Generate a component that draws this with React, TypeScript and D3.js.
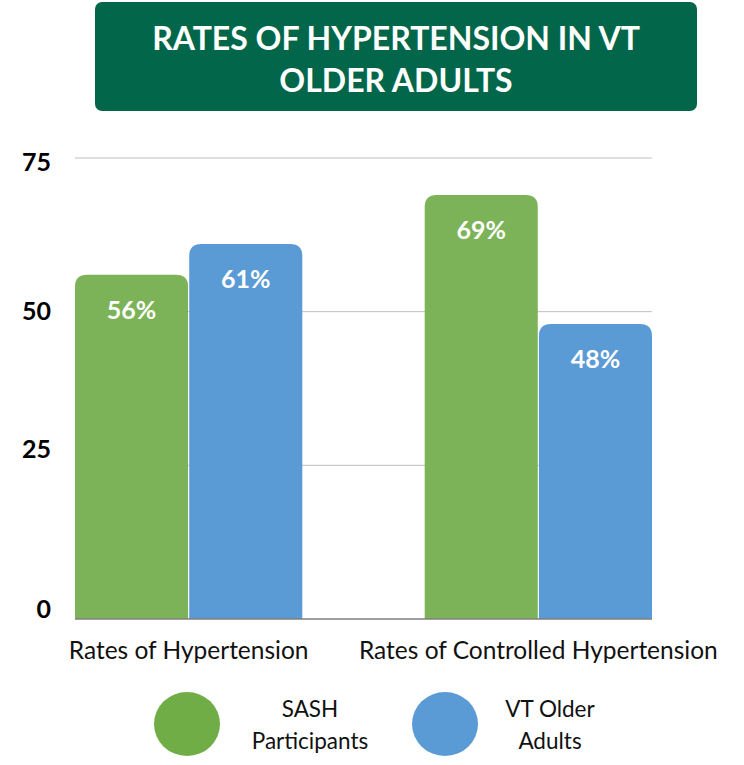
import React from 'react';
import * as d3 from 'd3';

const categories = ['Rates of Hypertension', 'Rates of Controlled Hypertension'];
const seriesNames = ['SASH Participants', 'VT Older Adults'];
const sashValues = [56, 69];
const vtValues = [61, 48];
const yTicks = [0, 25, 50, 75];
const titleLines = ['RATES OF HYPERTENSION IN VT', 'OLDER ADULTS'];
const legendLines = [['SASH', 'Participants'], ['VT Older', 'Adults']];

const W = 744;
const H = 765;
const FONT = 'Lato, "Open Sans", sans-serif';
const green = '#7db358';
const blue = '#5b9bd5';
const legendColors = ['#70ad47', '#5b9bd5'];
// the tick labels in the original sit a little off their gridlines
const tickLabelDy: Record<number, number> = { 0: -1, 25: -7, 50: 8, 75: 13 };

// path for a bar with rounded top corners only
function topRounded(x: number, y: number, w: number, h: number, r: number) {
	const rr = Math.min(r, h, w / 2);
	return `M${x},${y + h}V${y + rr}Q${x},${y} ${x + rr},${y}H${x + w - rr}Q${x + w},${y} ${x + w},${y + rr}V${y + h}Z`;
}

function App() {
	const x0 = d3.scaleBand().domain(categories).range([75, 652]).paddingInner(0.35).paddingOuter(0);
	const x1 = d3.scaleBand().domain(seriesNames).range([0, x0.bandwidth()]).paddingInner(0.01);
	const y = d3.scaleLinear().domain([0, 75]).range([619, 158]);

	const values = [sashValues, vtValues];
	const colors = [green, blue];

	return (
		<svg width={W} height={H} style={{ position: 'absolute', left: 0, top: 0 }} fontFamily={FONT}>
			{/* title */}
			<rect x={95} y={2} width={602} height={109} rx={7} fill="#02674a" />
			{titleLines.map((t, i) => (
				<text key={t} x={396} y={50 + i * 42} textAnchor="middle" fill="#fff" fontWeight="bold" fontSize={32}>
					{t}
				</text>
			))}

			{/* gridlines */}
			{yTicks.filter(t => t > 0).map(t => (
				<line key={t} x1={75} x2={652} y1={y(t)} y2={y(t)} stroke="#bfbfbf" strokeWidth={1} />
			))}
			{yTicks.map(t => (
				<text key={'l' + t} x={51} y={y(t)} dy={tickLabelDy[t]} textAnchor="end" fontWeight="bold" fontSize={25} fill="#000">
					{t}
				</text>
			))}

			{/* bars */}
			{categories.map((c, ci) => (
				<g key={c}>
					{seriesNames.map((s, si) => {
						const bx = (x0(c) || 0) + (x1(s) || 0);
						const bw = x1.bandwidth();
						const v = values[si][ci];
						return (
							<g key={s}>
								<path d={topRounded(bx, y(v), bw, y(0) - y(v), 12)} fill={colors[si]} />
								<text x={bx + bw / 2} y={y(v) + 44} textAnchor="middle" fill="#fff" fontWeight="bold" fontSize={25}>
									{v + '%'}
								</text>
							</g>
						);
					})}
					<text x={(x0(c) || 0) + x0.bandwidth() / 2} y={659} textAnchor="middle" fontSize={24.5} fill="#111">
						{c}
					</text>
				</g>
			))}
			<line x1={75} x2={652} y1={y(0)} y2={y(0)} stroke="#7f7f7f" strokeWidth={1.5} />

			{/* legend */}
			{legendLines.map((lines, i) => {
				const cx = i === 0 ? 187 : 445;
				const tx = i === 0 ? 310 : 550;
				return (
					<g key={seriesNames[i]}>
						<ellipse cx={cx} cy={724} rx={33} ry={32} fill={legendColors[i]} />
						{lines.map((l, li) => (
							<text key={l} x={tx} y={717 + li * 32} textAnchor="middle" fontSize={22.5} fill="#111">
								{l}
							</text>
						))}
					</g>
				);
			})}
		</svg>
	);
}

export default App;
